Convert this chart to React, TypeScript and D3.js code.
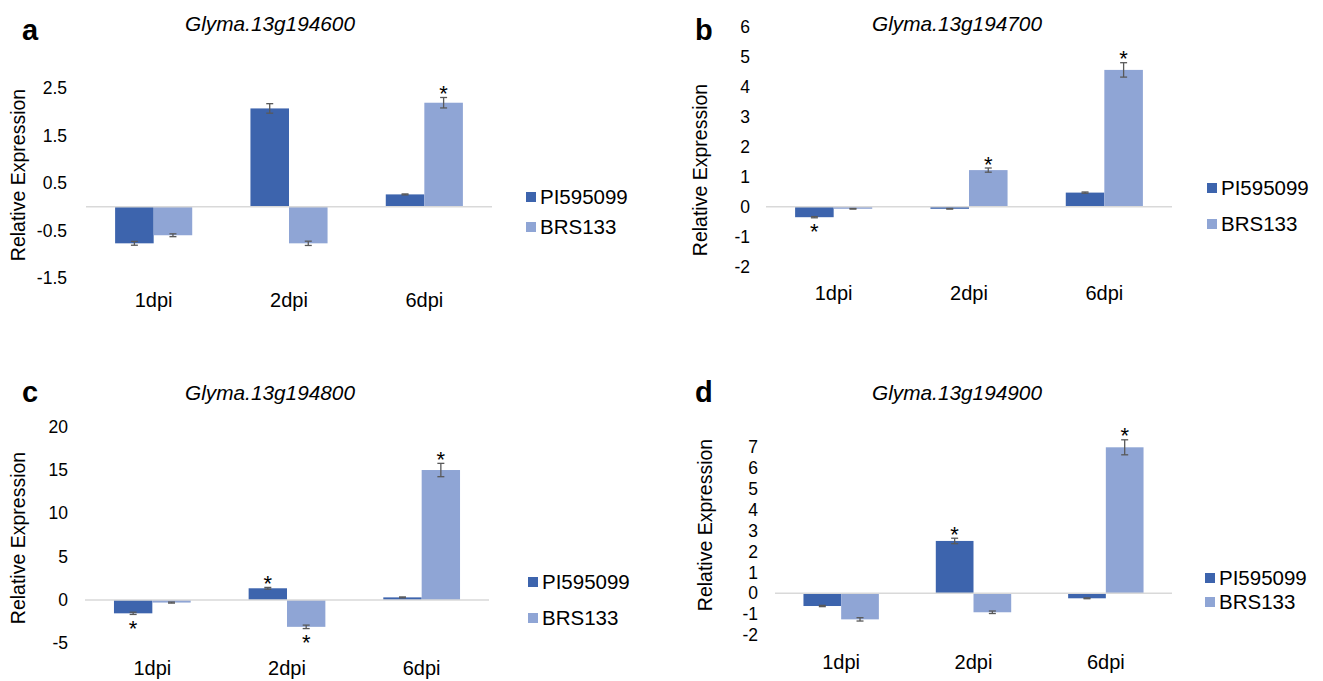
import React from 'react'
import * as d3 from 'd3'

const categories = ['1dpi', '2dpi', '6dpi']
const seriesNames = ['PI595099', 'BRS133']
const colors = ['#3d64ad', '#8fa5d5']

const titles = ['Glyma.13g194600', 'Glyma.13g194700', 'Glyma.13g194800', 'Glyma.13g194900']
const letters = ['a', 'b', 'c', 'd']

// a
const aPI = [-0.77, 2.07, 0.26]
const aPIErr = [0.04, 0.1, 0.01]
const aBRS = [-0.6, -0.77, 2.19]
const aBRSErr = [0.03, 0.045, 0.11]
const aPISig = [false, false, false]
const aBRSSig = [false, false, true]
const aTicks = [-1.5, -0.5, 0.5, 1.5, 2.5]

// b
const bPI = [-0.35, -0.07, 0.47]
const bPIErr = [0.02, 0.01, 0.02]
const bBRS = [-0.07, 1.22, 4.56]
const bBRSErr = [0.01, 0.07, 0.24]
const bPISig = [true, false, false]
const bBRSSig = [false, true, true]
const bTicks = [-2, -1, 0, 1, 2, 3, 4, 5, 6]

// c
const cPI = [-1.54, 1.35, 0.3]
const cPIErr = [0.13, 0.1, 0.05]
const cBRS = [-0.3, -3.1, 15.0]
const cBRSErr = [0.06, 0.2, 0.77]
const cPISig = [true, true, false]
const cBRSSig = [false, true, true]
const cTicks = [-5, 0, 5, 10, 15, 20]

// d
const dPI = [-0.61, 2.51, -0.24]
const dPIErr = [0.03, 0.13, 0.02]
const dBRS = [-1.25, -0.91, 7.0]
const dBRSErr = [0.08, 0.06, 0.36]
const dPISig = [false, true, false]
const dBRSSig = [false, false, true]
const dTicks = [-2, -1, 0, 1, 2, 3, 4, 5, 6, 7]

const FONT = '"Liberation Sans", Arial, sans-serif'

// layout only (pixel positions of each panel)
const layouts = [
  { x0: 86, x1: 492, yTop: 88, yBottom: 278, tickX: 67, xLabelY: 300, yTitleX: 18, yTitleY: 175, titleX: 270, titleY: 31, letterX: 22, letterY: 40, legX: 526, legY: [197, 227] },
  { x0: 766, x1: 1172, yTop: 26.7, yBottom: 266.7, tickX: 750, xLabelY: 293, yTitleX: 700, yTitleY: 170, titleX: 957, titleY: 31, letterX: 695, letterY: 40, legX: 1207, legY: [188, 224] },
  { x0: 85, x1: 489, yTop: 426.7, yBottom: 643.3, tickX: 68, xLabelY: 668, yTitleX: 18, yTitleY: 538, titleX: 270, titleY: 400, letterX: 22, letterY: 402, legX: 528, legY: [582, 618] },
  { x0: 775, x1: 1172, yTop: 447.3, yBottom: 635, tickX: 758, xLabelY: 662, yTitleX: 705, yTitleY: 525, titleX: 957, titleY: 400, letterX: 695, letterY: 402, legX: 1205, legY: [578, 602] },
]

const panelData = [
  { values: [aPI, aBRS], errs: [aPIErr, aBRSErr], sig: [aPISig, aBRSSig], ticks: aTicks },
  { values: [bPI, bBRS], errs: [bPIErr, bBRSErr], sig: [bPISig, bBRSSig], ticks: bTicks },
  { values: [cPI, cBRS], errs: [cPIErr, cBRSErr], sig: [cPISig, cBRSSig], ticks: cTicks },
  { values: [dPI, dBRS], errs: [dPIErr, dBRSErr], sig: [dPISig, dBRSSig], ticks: dTicks },
]

function Panel({ idx }: { idx: number }) {
  const L = layouts[idx]
  const D = panelData[idx]
  const x = d3.scaleBand().domain(categories).range([L.x0, L.x1])
  const sub = d3.scaleBand().domain(seriesNames).range([0, x.bandwidth()]).paddingOuter(0.755)
  const ticks = D.ticks
  const y = d3.scaleLinear().domain([ticks[0], ticks[ticks.length - 1]]).range([L.yBottom, L.yTop])
  const bw = sub.bandwidth()

  return (
    <g>
      <text x={L.letterX} y={L.letterY} fontSize={29} fontWeight="bold" fontFamily={FONT}>{letters[idx]}</text>
      <text x={L.titleX} y={L.titleY} fontSize={20.8} fontStyle="italic" textAnchor="middle" fontFamily={FONT}>{titles[idx]}</text>
      <text transform={`translate(${L.yTitleX},${L.yTitleY}) rotate(-90)`} fontSize={19.5} textAnchor="middle" dy="0.35em" fontFamily={FONT}>Relative Expression</text>
      {ticks.map(t => (
        <text key={t} x={L.tickX} y={y(t)} dy="0.35em" textAnchor="end" fontSize={17.5} fontFamily={FONT}>{String(t)}</text>
      ))}
      {seriesNames.map((s, si) =>
        categories.map((c, ci) => {
          const v = D.values[si][ci]
          const bx = (x(c) as number) + (sub(s) as number)
          return (
            <rect key={s + c} x={bx} width={bw} y={Math.min(y(v), y(0))} height={Math.abs(y(v) - y(0))} fill={colors[si]} />
          )
        })
      )}
      <line x1={L.x0} x2={L.x1} y1={y(0)} y2={y(0)} stroke="#d9d9d9" strokeWidth={1.5} />
      {seriesNames.map((s, si) =>
        categories.map((c, ci) => {
          const v = D.values[si][ci]
          const e = D.errs[si][ci]
          const cx = (x(c) as number) + (sub(s) as number) + bw / 2
          const yHi = y(v + e)
          const yLo = y(v - e)
          const starC = v >= 0 ? yHi - 9 : yLo + 9
          return (
            <g key={'e' + s + c}>
              <line x1={cx} x2={cx} y1={yHi} y2={yLo} stroke="#595959" strokeWidth={1.3} />
              <line x1={cx - 3.5} x2={cx + 3.5} y1={yHi} y2={yHi} stroke="#595959" strokeWidth={1.3} />
              <line x1={cx - 3.5} x2={cx + 3.5} y1={yLo} y2={yLo} stroke="#595959" strokeWidth={1.3} />
              {D.sig[si][ci] && (
                <text x={cx} y={starC + 12.5} textAnchor="middle" fontSize={22} fontFamily={FONT}>*</text>
              )}
            </g>
          )
        })
      )}
      {categories.map(c => (
        <text key={'x' + c} x={(x(c) as number) + x.bandwidth() / 2} y={L.xLabelY} dy="0.35em" textAnchor="middle" fontSize={20} fontFamily={FONT}>{c}</text>
      ))}
      {seriesNames.map((s, si) => (
        <g key={'l' + s}>
          <rect x={L.legX} y={L.legY[si] - 5} width={10} height={10} fill={colors[si]} />
          <text x={L.legX + 14} y={L.legY[si]} dy="0.35em" fontSize={20.5} fontFamily={FONT}>{s}</text>
        </g>
      ))}
    </g>
  )
}

export default function App() {
  return (
    <svg width={1323} height={681} style={{ position: 'absolute', left: 0, top: 0, background: '#fff' }}>
      {layouts.map((_, i) => <Panel key={i} idx={i} />)}
    </svg>
  )
}
